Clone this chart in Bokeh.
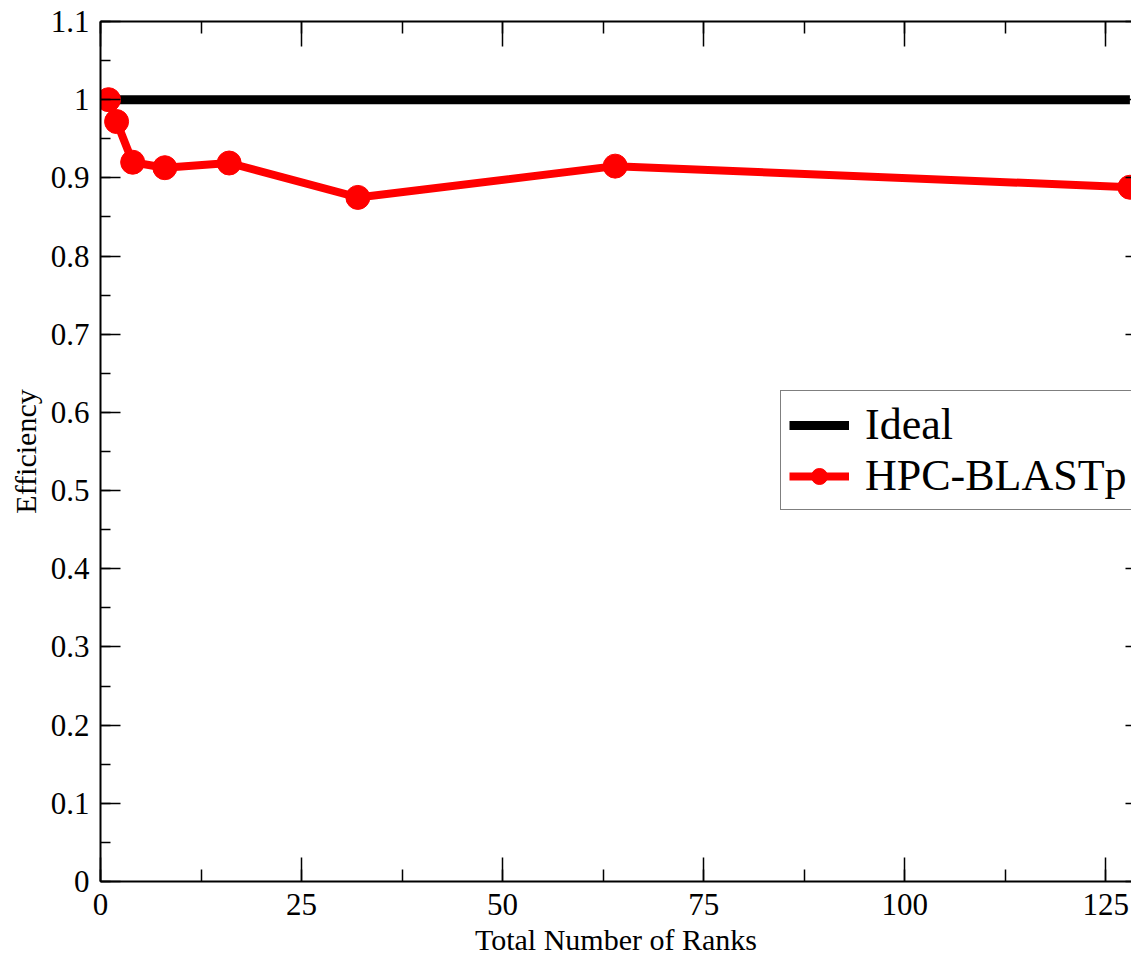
from bokeh.plotting import figure
from bokeh.models import (Range1d, LinearAxis, Legend, LegendItem,
                          CustomJSTickFormatter, SingleIntervalTicker)
from bokeh.embed import file_html
from bokeh.resources import INLINE

# ---- data ----
ranks = [1, 2, 4, 8, 16, 32, 64, 128]
efficiency = [1.0, 0.972, 0.920, 0.913, 0.919, 0.875, 0.915, 0.888]
ideal = [1.0, 1.0, 1.0, 1.0, 1.0, 1.0, 1.0, 1.0]
series_names = ["Ideal", "HPC-BLASTp"]
x_title = "Total Number of Ranks"
y_title = "Efficiency"

FONT = "Liberation Serif"

p = figure(width=1131, height=958,
           x_range=Range1d(0, 128.2), y_range=Range1d(0, 1.1),
           x_axis_type=None, y_axis_type=None,
           output_backend="svg", toolbar_location=None,
           min_border_left=100, min_border_right=0,
           min_border_top=21, min_border_bottom=76,
           outline_line_color=None,
           background_fill_color="white", border_fill_color="white")

fmt_y = CustomJSTickFormatter(code="return (Math.round(tick*10)/10).toString();")


def style(ax, tick_in, minor_in, labels=True):
    ax.axis_line_color = "black"
    ax.axis_line_width = 2
    ax.major_tick_line_color = "black"
    ax.minor_tick_line_color = "black"
    ax.major_tick_line_width = 1.5
    ax.minor_tick_line_width = 1.5
    ax.major_tick_in = tick_in
    ax.major_tick_out = 0
    ax.minor_tick_in = minor_in
    ax.minor_tick_out = 0
    ax.major_label_text_font = FONT
    ax.major_label_text_color = "black"
    ax.axis_label_text_font = FONT
    ax.axis_label_text_font_style = "normal"
    ax.axis_label_text_color = "black"
    if not labels:
        ax.formatter = CustomJSTickFormatter(code="return '';")
        ax.major_label_standoff = 0


xb = LinearAxis(ticker=SingleIntervalTicker(interval=25, num_minor_ticks=2),
                axis_label=x_title)
style(xb, 24, 12)
xb.major_label_text_font_size = "31px"
xb.major_label_standoff = 12
xb.axis_label_text_font_size = "30px"
xb.axis_label_standoff = 5
p.add_layout(xb, "below")

yl = LinearAxis(ticker=SingleIntervalTicker(interval=0.1, num_minor_ticks=2),
                formatter=fmt_y, axis_label=y_title)
style(yl, 20, 10)
yl.major_label_text_font_size = "31px"
yl.major_label_standoff = 11
yl.axis_label_text_font_size = "30px"
yl.axis_label_standoff = 6
p.add_layout(yl, "left")

xt = LinearAxis(ticker=SingleIntervalTicker(interval=25, num_minor_ticks=2))
style(xt, 25, 12, labels=False)
p.add_layout(xt, "above")

yr = LinearAxis(ticker=SingleIntervalTicker(interval=0.1, num_minor_ticks=2))
style(yr, 6, 0, labels=False)
yr.axis_line_color = None
yr.minor_tick_line_color = None
p.add_layout(yr, "right")

r_ideal = p.line(ranks, ideal, line_color="black", line_width=9)
r_line = p.line(ranks, efficiency, line_color="red", line_width=8)
r_pts = p.scatter(ranks, efficiency, size=24, fill_color="red", line_color="red")

legend = Legend(items=[LegendItem(label=series_names[0], renderers=[r_ideal]),
                       LegendItem(label=series_names[1], renderers=[r_line, r_pts])],
                location=(680, 371),
                label_text_font=FONT, label_text_font_size="44px",
                label_text_color="black",
                glyph_width=60, glyph_height=40, label_standoff=16,
                padding=8, spacing=0, margin=0,
                border_line_color="black", border_line_width=1.5,
                background_fill_color="white", background_fill_alpha=1)
p.add_layout(legend)

open("out.html", "w").write(file_html(p, INLINE))
